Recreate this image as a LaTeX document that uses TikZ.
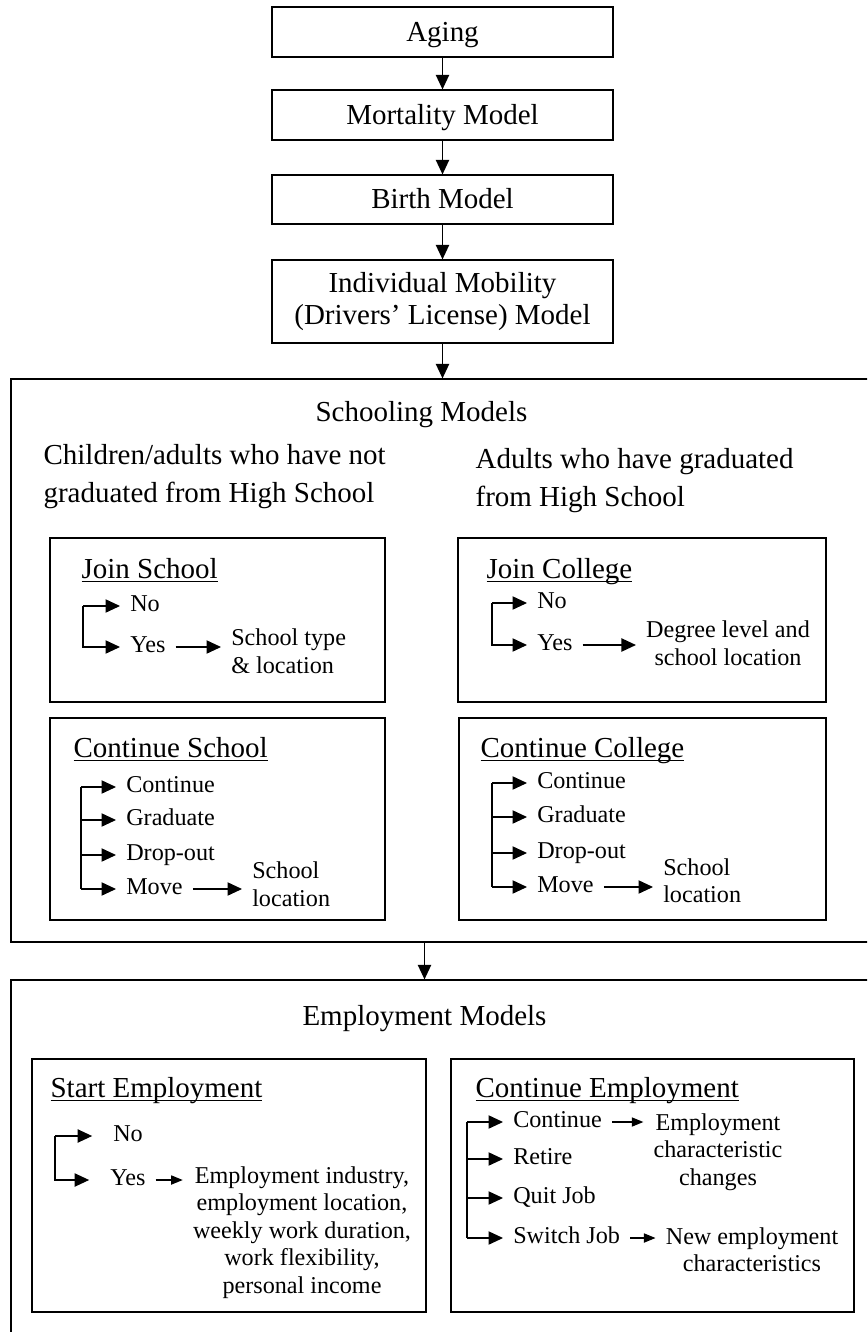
\documentclass[tikz,border=0pt]{standalone}
\usepackage{fontspec}
\setmainfont{Liberation Serif}
\usetikzlibrary{arrows.meta}

\newcommand\pxu{0.414pt}
\newcommand\ulin[1]{\underline{\raisebox{0pt}[\height][0pt]{#1}}}
\tikzset{
  frame/.style={draw, inner sep=0},
  model/.style={draw, minimum width=341*\pxu, align=center, font=\fontsize{12}{13.5}\selectfont},
  onel/.style={model, minimum height=50*\pxu, text height=8.5pt, text depth=1pt},
  head/.style={inner sep=0, anchor=base west, font=\fontsize{12}{14}\selectfont},
  grp/.style={inner sep=0, anchor=north west, align=left, font=\fontsize{12}{15.5}\selectfont},
  lbl/.style={inner xsep=4pt, inner ysep=0, align=left, font=\fontsize{10}{11.4}\selectfont},
  item/.style={lbl, anchor=west, text height=6.6pt, text depth=2pt},
  arr/.style={-{Triangle[length=6pt,width=5.5pt]}},
  sarr/.style={-{Triangle[length=4.8pt,width=3.8pt]}},
}

\begin{document}
\begin{tikzpicture}[x=\pxu, y=-\pxu, line width=0.5pt]
\useasboundingbox (0,0) rectangle (867,1332);
\clip (0,0) rectangle (867,1332);

% chain of models
\node[onel] (aging) at (442.5,32) {Aging};
\node[onel] (mort) at (442.5,115) {Mortality Model};
\node[onel, minimum height=49*\pxu] (birth) at (442.5,199.5) {Birth Model};
\node[model, minimum height=83*\pxu] (mob) at (442.5,301.5) {Individual Mobility\\(Drivers' License) Model};
\draw[arr] (aging) -- (mort);
\draw[arr] (mort) -- (birth);
\draw[arr] (birth) -- (mob);

% schooling
\node[frame, minimum width=889*\pxu, minimum height=563*\pxu] (school) at (455.5,660.5) {};
\draw[arr] (mob) -- (mob |- school.north);
\node[inner sep=0, anchor=base, font=\fontsize{12}{14}\selectfont] (schtitle) at (421.5,421) {Schooling Models};
\node[grp] (notgrad) at (43,444) {Children/adults who have not\\graduated from High School};
\node[grp] (grad) at (475,448) {Adults who have graduated\\from High School};

\node[frame, minimum width=335*\pxu, minimum height=164*\pxu] (jsbox) at (217.5,620) {};
\node[frame, minimum width=335*\pxu, minimum height=202*\pxu] (csbox) at (217.5,819) {};
\node[frame, minimum width=368*\pxu, minimum height=164*\pxu] (jcbox) at (642,620) {};
\node[frame, minimum width=367*\pxu, minimum height=202*\pxu] (ccbox) at (642.5,819) {};

% join school
\node[head] (jstitle) at (81,578) {\ulin{Join School}};
\coordinate (jsbar) at (83,606);
\node[item] (jsno) at (120,606) {No};
\node[item] (jsyes) at (120,647) {Yes};
\node[lbl, anchor=west] (jstype) at (221,651) {School type\\\& location};
\draw[arr] (jsbar) -- (jsno.west);
\draw[arr] (jsbar) |- (jsyes.west);
\draw[arr] (jsyes.east) -- (jstype.west |- jsyes.east);

% continue school
\node[head] (cstitle) at (73,757) {\ulin{Continue School}};
\foreach \n/\t/\y in {a/Continue/787, b/Graduate/820, c/Drop-out/855, d/Move/889}
  \node[item] (cs\n) at (116,\y) {\t};
\coordinate (csbar) at (81,787);
\draw (csbar) -- (csbar |- csd.west);
\foreach \n in {a,b,c,d}
  \draw[arr] (csbar |- cs\n.west) -- (cs\n.west);
\node[lbl, anchor=west] (csloc) at (242,884) {School\\location};
\draw[arr] (csd.east) -- (csloc.west |- csd.east);

% join college
\node[head] (jctitle) at (486,578) {\ulin{Join College}};
\coordinate (jcbar) at (492,603);
\node[item] (jcno) at (527,603) {No};
\node[item] (jcyes) at (527,645) {Yes};
\node[lbl, align=center] (jcdeg) at (728,643) {Degree level and\\school location};
\draw[arr] (jcbar) -- (jcno.west);
\draw[arr] (jcbar) |- (jcyes.west);
\draw[arr] (jcyes.east) -- (jcdeg.west |- jcyes.east);

% continue college
\node[head] (cctitle) at (480,757) {\ulin{Continue College}};
\foreach \n/\t/\y in {a/Continue/783, b/Graduate/817, c/Drop-out/853, d/Move/887}
  \node[item] (cc\n) at (527,\y) {\t};
\coordinate (ccbar) at (492,783);
\draw (ccbar) -- (ccbar |- ccd.west);
\foreach \n in {a,b,c,d}
  \draw[arr] (ccbar |- cc\n.west) -- (cc\n.west);
\node[lbl, anchor=west] (ccloc) at (653,880.5) {School\\location};
\draw[arr] (ccd.east) -- (ccloc.west |- ccd.east);

% employment
\node[frame, minimum width=889*\pxu, minimum height=370*\pxu] (empl) at (455.5,1165) {};
\node[inner sep=0, anchor=base, font=\fontsize{12}{14}\selectfont] (emptitle) at (424.5,1025) {Employment Models};
\draw[arr] (school.south -| emptitle) -- (empl.north -| emptitle);

\node[frame, minimum width=394*\pxu, minimum height=253*\pxu] (sebox) at (229,1185.5) {};
\node[frame, minimum width=403*\pxu, minimum height=253*\pxu] (cebox) at (652.5,1185.5) {};

% start employment
\node[head] (setitle) at (50,1097) {\ulin{Start Employment}};
\coordinate (sebar) at (55,1136);
\node[item] (seno) at (103,1136) {No};
\node[item] (seyes) at (100,1180) {Yes};
\draw[arr, shorten >=4.5pt] (sebar) -- (seno.west);
\draw[arr, shorten >=4.5pt] (sebar) |- (seyes.west);
\node[lbl, align=center, anchor=north] (seattr) at (302,1166) {Employment industry,\\employment location,\\weekly work duration,\\work flexibility,\\personal income};
\draw[sarr] (seyes.east) -- (seattr.west |- seyes.east);

% continue employment
\node[head] (cetitle) at (475,1097) {\ulin{Continue Employment}};
\foreach \n/\t/\y in {a/Continue/1122, b/Retire/1159, c/Quit Job/1198, d/Switch Job/1238}
  \node[item] (ce\n) at (503,\y) {\t};
\coordinate (cebar) at (467,1122);
\draw (cebar) -- (cebar |- ced.west);
\foreach \n in {a,b,c,d}
  \draw[arr] (cebar |- ce\n.west) -- (ce\n.west);
\node[lbl, align=center, anchor=north] (cechg) at (718,1113) {Employment\\characteristic\\changes};
\draw[sarr] (cea.east) -- (cechg.west |- cea.east);
\node[lbl, align=center, anchor=north] (cenew) at (752,1227) {New employment\\characteristics};
\draw[sarr] (ced.east) -- (cenew.west |- ced.east);
\end{tikzpicture}
\end{document}
